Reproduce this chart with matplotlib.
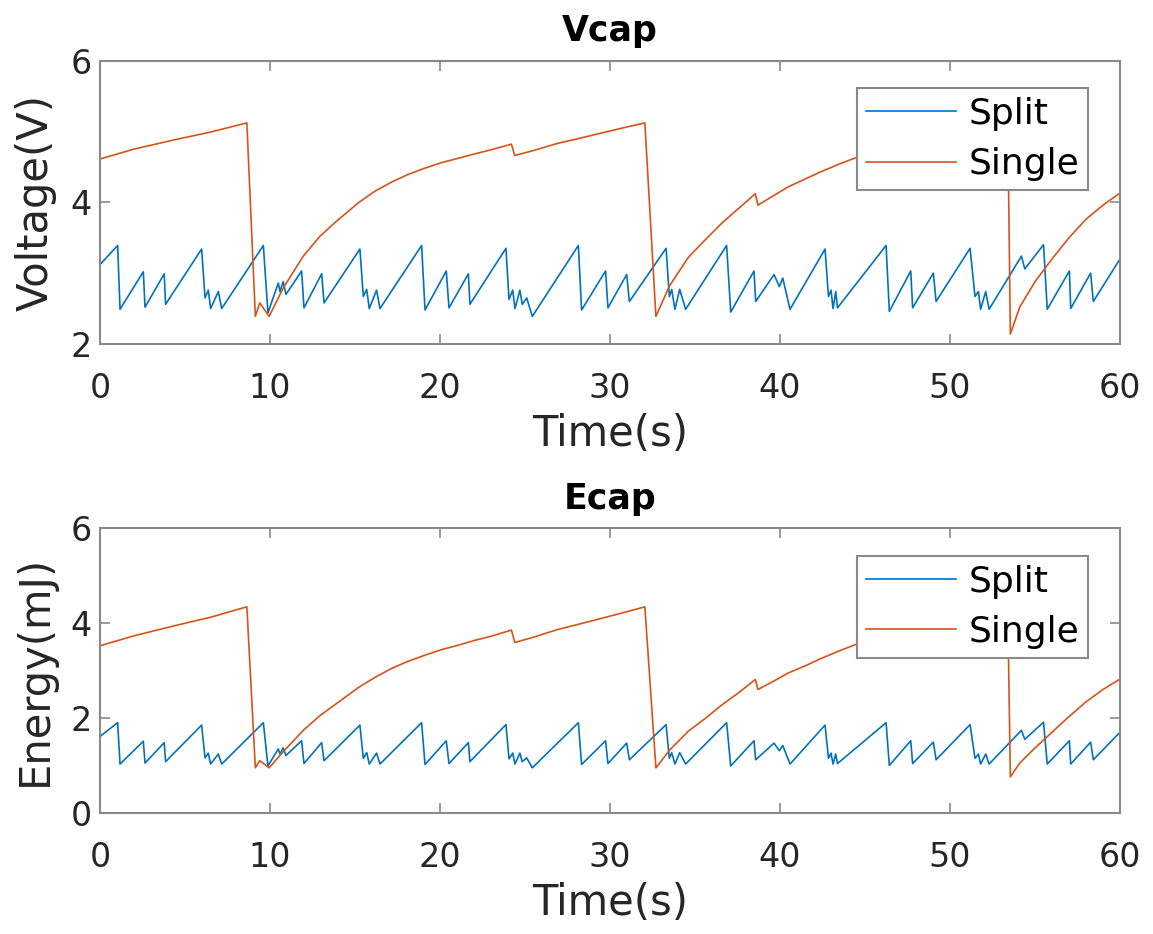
import numpy as np
import matplotlib
matplotlib.use('Agg')
import matplotlib.pyplot as plt

# Split: sawtooth, vertices
t_split = [0, 1.04, 1.18, 2.55, 2.65, 3.78, 3.86, 5.98, 6.18, 6.37, 6.51, 6.96, 7.16,
           9.61, 9.88, 10.49, 10.59, 10.78, 10.94, 11.86, 12.0, 13.04, 13.18,
           15.29, 15.49, 15.69, 15.84, 16.27, 16.47, 18.92, 19.12, 20.37, 20.53,
           21.67, 21.76, 23.88, 24.06, 24.28, 24.41, 24.7, 24.84, 25.1, 25.43,
           28.14, 28.33, 29.74, 29.88, 30.98, 31.14, 33.3, 33.49, 33.63, 33.82,
           34.1, 34.45, 36.86, 37.1, 38.47, 38.57, 39.65, 39.96, 40.16, 40.59,
           42.65, 42.85, 43.0, 43.12, 43.28, 43.38, 46.24, 46.43, 47.69, 47.8,
           49.02, 49.18, 51.18, 51.47, 51.67, 51.8, 52.1, 52.3, 54.2, 54.4,
           55.5, 55.72, 57.02, 57.1, 58.27, 58.43, 60]
v_split = [3.12, 3.39, 2.49, 3.02, 2.52, 2.99, 2.56, 3.34, 2.65, 2.76, 2.50, 2.74, 2.50,
           3.39, 2.44, 2.86, 2.74, 2.88, 2.70, 3.03, 2.51, 2.99, 2.58,
           3.34, 2.67, 2.77, 2.50, 2.76, 2.50, 3.39, 2.48, 3.03, 2.51,
           2.99, 2.56, 3.35, 2.63, 2.76, 2.50, 2.76, 2.56, 2.65, 2.39,
           3.39, 2.48, 3.03, 2.51, 2.98, 2.60, 3.35, 2.67, 2.77, 2.49,
           2.77, 2.49, 3.39, 2.45, 3.03, 2.60, 2.98, 2.81, 2.93, 2.49,
           3.34, 2.67, 2.76, 2.50, 2.74, 2.51, 3.39, 2.46, 3.03, 2.51,
           3.00, 2.60, 3.35, 2.67, 2.74, 2.49, 2.74, 2.49, 3.24, 3.06,
           3.40, 2.49, 3.03, 2.50, 3.00, 2.60, 3.20]
e_split = [1.61, 1.90, 1.03, 1.51, 1.05, 1.48, 1.08, 1.85, 1.16, 1.26, 1.03, 1.24, 1.03,
           1.90, 0.99, 1.35, 1.24, 1.37, 1.21, 1.52, 1.04, 1.48, 1.10,
           1.85, 1.15, 1.27, 1.03, 1.26, 1.03, 1.90, 1.02, 1.52, 1.04,
           1.48, 1.08, 1.86, 1.14, 1.26, 1.03, 1.26, 1.08, 1.16, 0.95,
           1.90, 1.02, 1.52, 1.04, 1.47, 1.12, 1.86, 1.15, 1.27, 1.03,
           1.27, 1.03, 1.90, 0.99, 1.52, 1.12, 1.47, 1.31, 1.42, 1.03,
           1.85, 1.15, 1.26, 1.03, 1.24, 1.04, 1.90, 1.00, 1.52, 1.04,
           1.49, 1.12, 1.86, 1.15, 1.24, 1.03, 1.24, 1.03, 1.74, 1.55,
           1.91, 1.03, 1.52, 1.03, 1.49, 1.12, 1.70]

# Single: charging curves with drops
t_single = [0, 2, 4.36, 6.5, 8.64, 9.14, 9.4, 9.95, 10.78, 11.96, 12.94, 13.9, 15.24,
            16.2, 17.2, 18.1, 19.1, 20.1, 21.06, 22.0, 23.0, 24.2, 24.4, 25.5, 26.9,
            28.0, 29.2, 30.6, 32.05, 32.7, 33.5, 34.6, 35.6, 36.6, 37.6, 38.55, 38.7,
            39.6, 40.5, 41.5, 42.4, 43.6, 44.7, 46.0, 47.5, 49.0, 50.5, 52.0, 53.4,
            53.55, 54.1, 55.0, 56.0, 57.0, 58.0, 59.0, 60]
v_single = [4.61, 4.75, 4.88, 4.99, 5.12, 2.39, 2.58, 2.39, 2.79, 3.24, 3.52, 3.73, 4.00,
            4.16, 4.29, 4.39, 4.48, 4.56, 4.62, 4.68, 4.74, 4.82, 4.66, 4.73, 4.83,
            4.89, 4.96, 5.04, 5.12, 2.39, 2.82, 3.22, 3.47, 3.71, 3.92, 4.12, 3.96,
            4.09, 4.22, 4.33, 4.43, 4.55, 4.65, 4.74, 4.83, 4.90, 4.96, 5.01, 5.05,
            2.14, 2.52, 2.88, 3.20, 3.50, 3.76, 3.96, 4.13]
e_single = [3.52, 3.73, 3.94, 4.12, 4.34, 0.95, 1.10, 0.95, 1.29, 1.74, 2.05, 2.30, 2.65,
            2.86, 3.05, 3.19, 3.32, 3.44, 3.53, 3.63, 3.72, 3.85, 3.59, 3.70, 3.86,
            3.96, 4.07, 4.20, 4.34, 0.95, 1.32, 1.72, 1.99, 2.28, 2.54, 2.81, 2.60,
            2.77, 2.95, 3.10, 3.25, 3.43, 3.58, 3.72, 3.86, 3.97, 4.07, 4.15, 4.22,
            0.76, 1.05, 1.37, 1.70, 2.03, 2.34, 2.60, 2.82]

azul = '#0072BD'
laranja = '#D95319'
cinza = '#8a8a8a'
texto = '#262626'

fig = plt.figure(figsize=(11.53, 9.34), dpi=100)
ax1 = fig.add_axes([0.0867, 0.6317, 0.8847, 0.3035])
ax2 = fig.add_axes([0.0867, 0.1296, 0.8847, 0.3051])

paineis = [
    (ax1, v_split, v_single, 'Vcap', 'Voltage(V)', (2, 6), [2, 4, 6]),
    (ax2, e_split, e_single, 'Ecap', 'Energy(mJ)', (0, 6), [0, 2, 4, 6]),
]

for ax, ys, yg, titulo, rotulo, lim, ticks in paineis:
    ax.plot(t_split, ys, color=azul, lw=1.2, label='Split')
    ax.plot(t_single, yg, color=laranja, lw=1.2, label='Single')
    ax.set_xlim(0, 60)
    ax.set_ylim(*lim)
    ax.set_xticks([0, 10, 20, 30, 40, 50, 60])
    ax.set_yticks(ticks)
    ax.tick_params(direction='in', top=True, right=True, length=7, width=1.2,
                   color=cinza, labelcolor=texto, labelsize=24)
    ax.tick_params(axis='x', pad=20)
    ax.tick_params(axis='y', pad=6)
    for s in ax.spines.values():
        s.set_color(cinza)
        s.set_linewidth(1.5)
    ax.set_title(titulo, fontsize=25, fontweight='bold', color='black', pad=14)
    ax.set_xlabel('Time(s)', fontsize=30, color=texto, labelpad=6)
    ax.set_ylabel(rotulo, fontsize=30, color=texto, labelpad=10)
    leg = ax.legend(loc='upper right', bbox_to_anchor=(0.969, 0.903), fontsize=26,
                    fancybox=False, framealpha=1, edgecolor=cinza, handlelength=2.5,
                    handletextpad=0.35, borderpad=0.25, labelspacing=0.45, borderaxespad=0)
    leg.get_frame().set_linewidth(1.5)
    for txt in leg.get_texts():
        txt.set_color('black')

fig.savefig('out.png', dpi=100)
